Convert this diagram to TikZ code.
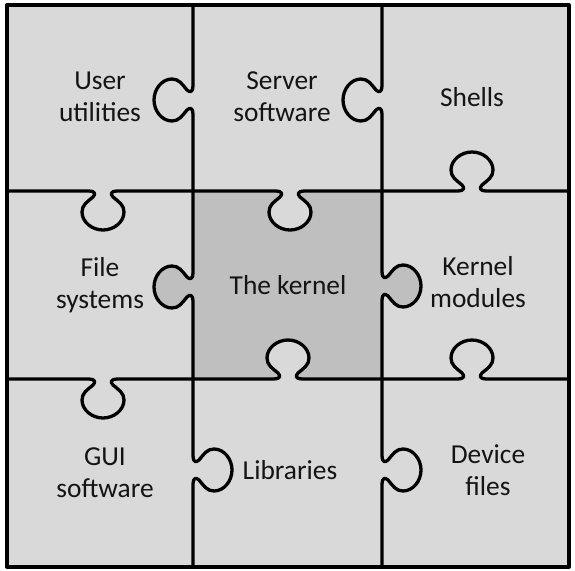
\documentclass[tikz,border=0pt]{standalone}
\usepackage{fontspec}
\setmainfont{Carlito}
\definecolor{piece}{HTML}{D9D9D9}
\definecolor{core}{HTML}{BFBFBF}
\definecolor{ink}{HTML}{141414}
\tikzset{
 htab/.style n args={3}{insert path={
  -- ({#1-14},{#2})
  .. controls ({#1-8},{#2}) and ({#1-7},{#2+3*(#3)}) .. ({#1-10},{#2+6*(#3)})
  .. controls ({#1-16},{#2+11*(#3)}) and ({#1-21},{#2+14*(#3)}) .. ({#1-21},{#2+21*(#3)})
  .. controls ({#1-21},{#2+31*(#3)}) and ({#1-11},{#2+39*(#3)}) .. ({#1},{#2+39*(#3)})
  .. controls ({#1+11},{#2+39*(#3)}) and ({#1+21},{#2+31*(#3)}) .. ({#1+21},{#2+21*(#3)})
  .. controls ({#1+21},{#2+14*(#3)}) and ({#1+16},{#2+11*(#3)}) .. ({#1+10},{#2+6*(#3)})
  .. controls ({#1+7},{#2+3*(#3)}) and ({#1+8},{#2}) .. ({#1+14},{#2})
 }},
 vtab/.style n args={3}{insert path={
  -- ({#1},{#2-14})
  .. controls ({#1},{#2-8}) and ({#1+3*(#3)},{#2-7}) .. ({#1+6*(#3)},{#2-10})
  .. controls ({#1+11*(#3)},{#2-16}) and ({#1+14*(#3)},{#2-21}) .. ({#1+21*(#3)},{#2-21})
  .. controls ({#1+31*(#3)},{#2-21}) and ({#1+39*(#3)},{#2-11}) .. ({#1+39*(#3)},{#2})
  .. controls ({#1+39*(#3)},{#2+11}) and ({#1+31*(#3)},{#2+21}) .. ({#1+21*(#3)},{#2+21})
  .. controls ({#1+14*(#3)},{#2+21}) and ({#1+11*(#3)},{#2+16}) .. ({#1+6*(#3)},{#2+10})
  .. controls ({#1+3*(#3)},{#2+7}) and ({#1},{#2+8}) .. ({#1},{#2+14})
 }},
 edge line/.style={draw=black, line width=3.3pt, line join=round, line cap=round},
 lbl/.style={text=ink, align=center, font=\fontsize{27.4}{32}\selectfont, inner sep=0pt}
}
\begin{document}
\begin{tikzpicture}[x=1pt, y=-1pt]
\useasboundingbox (0,0) rectangle (575,570);
% backgrounds
\fill[piece] (7,5) rectangle (569,567);
\fill[core] (193,191) rectangle (382,379);
\fill[piece] (276,191) [htab={290}{191}{1}] -- cycle;
\fill[piece] (274,379) [htab={288}{379}{-1}] -- cycle;
\fill[core] (193,273) [vtab={193}{287}{-1}] -- cycle;
\fill[core] (382,272) [vtab={382}{286}{1}] -- cycle;
% seams
\draw[edge line] (193,5) [vtab={193}{100}{-1}] [vtab={193}{287}{-1}] [vtab={193}{470}{1}] -- (193,567);
\draw[edge line] (382,5) [vtab={382}{100}{-1}] [vtab={382}{286}{1}] [vtab={382}{470}{1}] -- (382,567);
\draw[edge line] (7,191) [htab={103}{191}{1}] [htab={290}{191}{1}] [htab={472}{191}{-1}] -- (569,191);
\draw[edge line] (7,379) [htab={103}{379}{1}] [htab={288}{379}{-1}] [htab={472}{379}{-1}] -- (569,379);
\draw[edge line] (7,5) rectangle (569,567);
% labels
\node[lbl] (user) at (100,97) {User\\utilities};
\node[lbl] (server) at (282,97) {Server\\software};
\node[lbl] (shells) at (472,97) {Shells};
\node[lbl] (fs) at (100,285) {File\\systems};
\node[lbl] (kernel) at (288,285) {The kernel};
\node[lbl] (kmod) at (478,282) {Kernel\\modules};
\node[lbl] (gui) at (105,473) {GUI\\software};
\node[lbl] (libs) at (290,470) {Libraries};
\node[lbl] (dev) at (488,470) {Device\\files};
\end{tikzpicture}
\end{document}
